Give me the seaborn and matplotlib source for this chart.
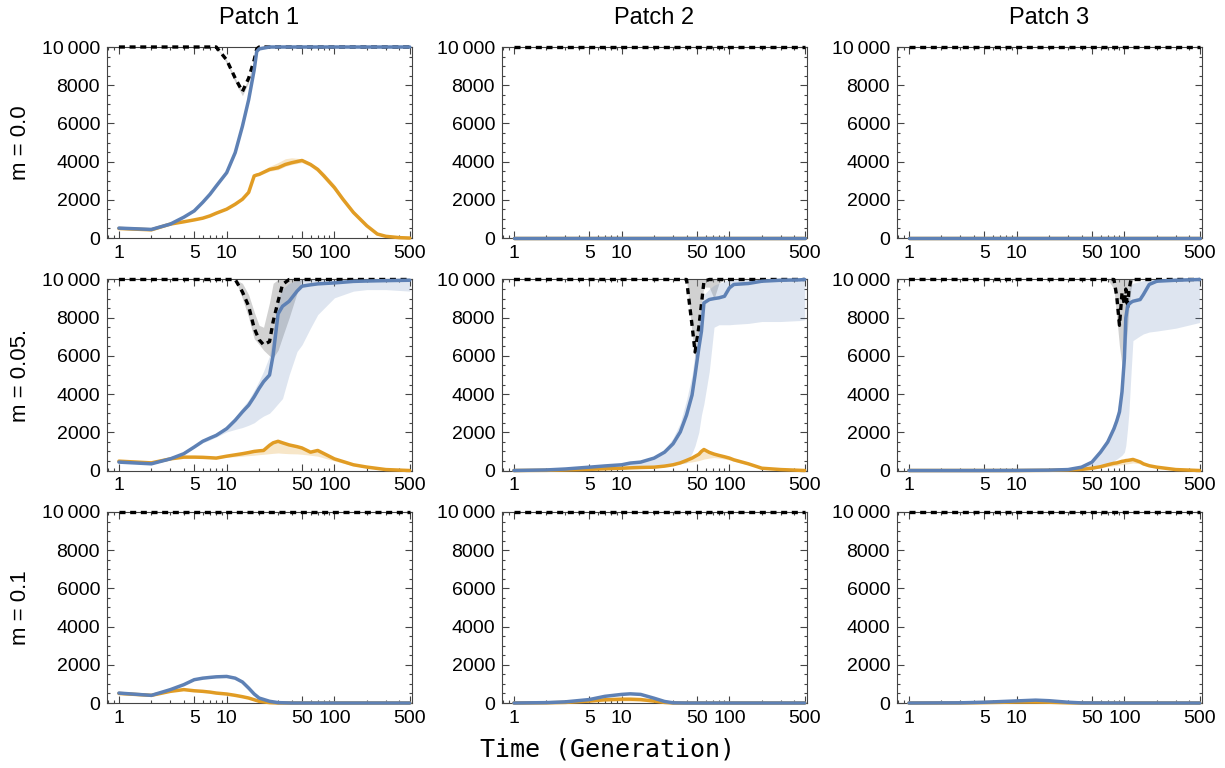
import matplotlib
matplotlib.use("Agg")
import matplotlib.pyplot as plt
import matplotlib.ticker as mticker
import seaborn as sns

# ---- data ----
patches = ["Patch 1", "Patch 2", "Patch 3"]
rates = ["m = 0.0", "m = 0.05.", "m = 0.1"]
x_ticks = [1, 5, 10, 50, 100, 500]
y_ticks = [0, 2000, 4000, 6000, 8000, 10000]
y_labels = ["0", "2000", "4000", "6000", "8000", "10\u2009000"]

# empty patches
t_flat = [1, 500]
zero_flat = [0, 0]
full_flat = [10000, 10000]

# m = 0.0, patch 1
t11 = [1, 2, 3, 4, 5, 6, 7, 8, 10, 12, 14, 16, 18, 19, 20, 25, 30, 35, 40, 50,
       60, 70, 80, 100, 120, 150, 200, 250, 300, 400, 500]
blue11 = [520, 450, 730, 1090, 1420, 1870, 2290, 2720, 3420, 4470, 5850, 7240, 8800, 9760, 9900,
          10000, 10000, 10000, 10000, 10000, 10000, 10000, 10000, 10000, 10000, 10000, 10000,
          10000, 10000, 10000, 10000]
orange11 = [500, 430, 730, 850, 950, 1040, 1160, 1300, 1510, 1770, 2030, 2390, 3250, 3300, 3330,
            3590, 3680, 3850, 3940, 4060, 3850, 3590, 3250, 2640, 2030, 1340, 640, 210, 90, 20, 0]
orange11_hi = [500, 430, 730, 850, 950, 1040, 1160, 1300, 1510, 1770, 2030, 2390, 3300, 3380, 3420,
               3750, 3950, 4150, 4200, 4150, 3950, 3700, 3400, 2800, 2150, 1450, 700, 250, 110, 30, 0]
orange11_lo = [500, 430, 730, 850, 950, 1040, 1160, 1300, 1510, 1770, 2030, 2390, 3200, 3250, 3280,
               3500, 3580, 3750, 3850, 3950, 3750, 3450, 3100, 2500, 1900, 1250, 580, 180, 70, 10, 0]
black11 = [10000, 10000, 10000, 10000, 10000, 10000, 10000, 10000, 9320, 8370, 7670, 8370, 9320,
           9900, 10000, 10000, 10000, 10000, 10000, 10000, 10000, 10000, 10000, 10000, 10000,
           10000, 10000, 10000, 10000, 10000, 10000]
black11_lo = [10000, 10000, 10000, 10000, 10000, 10000, 10000, 10000, 9150, 8150, 7450, 8150, 9100,
              9750, 10000, 10000, 10000, 10000, 10000, 10000, 10000, 10000, 10000, 10000, 10000,
              10000, 10000, 10000, 10000, 10000, 10000]

# m = 0.05, patch 1
t21 = [1, 2, 3, 4, 5, 6, 7, 8, 10, 12, 14, 16, 18, 20, 22, 25, 27, 30, 33, 38,
       45, 50, 60, 70, 100, 150, 200, 300, 500]
blue21 = [440, 350, 610, 880, 1230, 1530, 1700, 1840, 2190, 2630, 3070, 3420, 3860, 4300, 4650,
          5000, 6050, 8200, 8600, 8860, 9390, 9650, 9720, 9770, 9820, 9900, 9920, 9940, 9960]
blue21_lo = [440, 350, 610, 860, 1180, 1450, 1600, 1750, 2020, 2150, 2250, 2370, 2500, 2700, 2850,
             3000, 3200, 3500, 3770, 5000, 6230, 6580, 7460, 8160, 9040, 9390, 9470, 9470, 9390]
blue21_hi = [440, 350, 610, 900, 1280, 1600, 1800, 1950, 2350, 2800, 3300, 3700, 4200, 4700, 5200,
             6000, 7200, 9000, 9500, 9800, 9950, 10000, 10000, 10000, 10000, 10000, 10000, 10000,
             10000]
orange21 = [490, 400, 610, 700, 700, 690, 670, 650, 750, 820, 880, 940, 1000, 1030, 1050, 1320,
             1450, 1530, 1450, 1340, 1250, 1180, 960, 1050, 610, 300, 180, 50, 0]
orange21_lo = [490, 400, 610, 690, 690, 680, 660, 640, 700, 720, 750, 780, 800, 830, 850, 880,
               900, 920, 900, 880, 870, 850, 800, 750, 500, 250, 150, 40, 0]
black21 = [10000, 10000, 10000, 10000, 10000, 10000, 10000, 10000, 10000, 10000, 9350, 8600, 7450,
           6850, 6580, 6750, 7800, 8860, 9740, 10000, 10000, 10000, 10000, 10000, 10000, 10000,
           10000, 10000, 10000]
black21_lo = [10000, 10000, 10000, 10000, 10000, 10000, 10000, 10000, 10000, 10000, 9000, 8000,
              6900, 6600, 6300, 6000, 5900, 6300, 7000, 8000, 9300, 10000, 10000, 10000, 10000,
              10000, 10000, 10000, 10000]
black21_hi = [10000, 10000, 10000, 10000, 10000, 10000, 10000, 10000, 10000, 10000, 9800, 9200,
              8300, 7600, 7500, 8800, 9800, 10000, 10000, 10000, 10000, 10000, 10000, 10000, 10000,
              10000, 10000, 10000, 10000]

# m = 0.05, patch 2
t22 = [1, 2, 3, 5, 7, 10, 12, 15, 20, 25, 30, 35, 40, 45, 48, 52, 55, 58, 65, 72,
       80, 90, 100, 110, 150, 200, 300, 450, 500]
blue22 = [0, 30, 80, 175, 240, 300, 390, 440, 650, 960, 1400, 2020, 2900, 3950, 5000, 6400, 7280,
          8770, 8950, 9000, 9040, 9120, 9560, 9740, 9790, 9910, 9960, 9980, 10000]
blue22_lo = [0, 20, 50, 120, 170, 220, 250, 260, 270, 300, 330, 350, 400, 900, 1300, 2000, 2900,
             3500, 5180, 7500, 7630, 7630, 7630, 7650, 7700, 7800, 7800, 7850, 7890]
blue22_hi = [0, 30, 80, 175, 240, 300, 390, 450, 700, 1100, 1700, 2500, 3700, 5000, 6200, 7800,
             8900, 9200, 9500, 9700, 9800, 9900, 10000, 10000, 10000, 10000, 10000, 10000, 10000]
orange22 = [0, 10, 30, 60, 90, 120, 140, 160, 175, 230, 300, 400, 530, 650, 740, 850, 1000, 1100,
            950, 860, 790, 720, 650, 560, 350, 120, 50, 10, 0]
orange22_lo = [0, 10, 30, 60, 90, 120, 140, 160, 175, 220, 280, 350, 420, 450, 480, 520, 560, 600,
               650, 680, 650, 600, 550, 480, 300, 100, 40, 5, 0]
black22 = [10000, 10000, 10000, 10000, 10000, 10000, 10000, 10000, 10000, 10000, 10000, 10000,
           10000, 7600, 6200, 7500, 8700, 9900, 10000, 10000, 10000, 10000, 10000, 10000, 10000,
           10000, 10000, 10000, 10000]
black22_lo = [10000, 10000, 10000, 10000, 10000, 10000, 10000, 10000, 10000, 10000, 10000, 10000,
              10000, 7200, 5900, 7400, 8800, 9600, 9600, 9000, 9800, 10000, 10000, 10000, 10000,
              10000, 10000, 10000, 10000]

# m = 0.05, patch 3
t23 = [1, 5, 10, 20, 30, 40, 50, 60, 70, 80, 85, 90, 95, 100, 103, 107, 110, 115, 120, 140,
       150, 170, 200, 300, 500]
blue23 = [0, 0, 5, 20, 50, 175, 440, 960, 1490, 2190, 2600, 3070, 4120, 5880, 7980, 8600, 8700,
          8800, 8860, 8950, 9210, 9740, 9910, 9960, 10000]
blue23_lo = [0, 0, 0, 5, 10, 20, 60, 150, 300, 500, 600, 700, 800, 960, 1300, 2200, 3000, 5000,
             6800, 7050, 7150, 7250, 7300, 7450, 7750]
blue23_hi = [0, 0, 5, 25, 60, 200, 500, 1100, 1700, 2500, 3000, 3700, 5000, 7000, 8700, 9300,
             9500, 9700, 9800, 9900, 9950, 10000, 10000, 10000, 10000]
orange23 = [0, 0, 0, 10, 30, 60, 120, 200, 300, 380, 400, 440, 480, 500, 520, 530, 540, 560, 580,
            450, 350, 250, 175, 50, 0]
orange23_lo = [0, 0, 0, 10, 25, 50, 90, 140, 200, 250, 270, 290, 310, 330, 340, 350, 360, 380, 400,
               350, 280, 200, 140, 40, 0]
black23 = [10000, 10000, 10000, 10000, 10000, 10000, 10000, 10000, 10000, 10000, 9100, 7600, 9300,
           8700, 9500, 8500, 9400, 10000, 10000, 10000, 10000, 10000, 10000, 10000, 10000]
black23_lo = [10000, 10000, 10000, 10000, 10000, 10000, 10000, 10000, 10000, 9500, 8000, 6500,
              5500, 5200, 6500, 7500, 8500, 9500, 10000, 10000, 10000, 10000, 10000, 10000, 10000]

# m = 0.1, patch 1
t31 = [1, 2, 3, 4, 5, 6, 7, 8, 10, 12, 14, 16, 18, 20, 25, 30, 40, 50, 100, 500]
blue31 = [520, 400, 700, 960, 1220, 1300, 1340, 1370, 1390, 1300, 1100, 780, 470, 260, 90, 20,
          0, 0, 0, 0]
orange31 = [500, 400, 610, 700, 640, 610, 570, 520, 470, 400, 330, 260, 170, 90, 20, 0, 0, 0, 0, 0]

# m = 0.1, patch 2
t32 = [1, 2, 3, 5, 7, 10, 12, 15, 20, 25, 30, 40, 100, 500]
blue32 = [0, 20, 60, 180, 350, 450, 480, 450, 250, 80, 10, 0, 0, 0]
orange32 = [0, 10, 30, 100, 170, 200, 200, 180, 100, 30, 0, 0, 0, 0]
orange32_lo = [0, 0, 10, 40, 80, 100, 100, 90, 50, 10, 0, 0, 0, 0]

# m = 0.1, patch 3
t33 = [1, 3, 5, 10, 15, 20, 30, 40, 100, 500]
blue33 = [0, 10, 40, 110, 150, 120, 40, 5, 0, 0]
orange33 = [0, 5, 20, 50, 50, 40, 10, 0, 0, 0]

BLUE = "#5E81B5"
ORANGE = "#E19C24"

panels = [
    [dict(t=t11, blue=blue11, orange=orange11, black=black11,
          orange_band=(orange11_lo, orange11_hi), black_band=(black11_lo, black11)),
     dict(t=t_flat, blue=zero_flat, orange=zero_flat, black=full_flat),
     dict(t=t_flat, blue=zero_flat, orange=zero_flat, black=full_flat)],
    [dict(t=t21, blue=blue21, orange=orange21, black=black21, blue_band=(blue21_lo, blue21_hi),
          orange_band=(orange21_lo, orange21), black_band=(black21_lo, black21_hi)),
     dict(t=t22, blue=blue22, orange=orange22, black=black22, blue_band=(blue22_lo, blue22_hi),
          orange_band=(orange22_lo, orange22), black_band=(black22_lo, [10000] * len(t22))),
     dict(t=t23, blue=blue23, orange=orange23, black=black23, blue_band=(blue23_lo, blue23_hi),
          orange_band=(orange23_lo, orange23), black_band=(black23_lo, [10000] * len(t23)))],
    [dict(t=t31, blue=blue31, orange=orange31, black=[10000] * len(t31)),
     dict(t=t32, blue=blue32, orange=orange32, black=[10000] * len(t32),
          orange_band=(orange32_lo, orange32)),
     dict(t=t33, blue=blue33, orange=orange33, black=[10000] * len(t33))],
]

sns.set_theme(style="ticks")
plt.rcParams['font.family'] = ['Liberation Sans', 'DejaVu Sans']
plt.rcParams['text.color'] = 'black'

fig, axes = plt.subplots(3, 3, figsize=(12.25, 7.68), dpi=100)
fig.subplots_adjust(left=107 / 1225, right=1202 / 1225, top=1 - 47 / 768,
                    bottom=1 - 703 / 768, wspace=0.295, hspace=0.217)

for r in range(3):
    for c in range(3):
        ax = axes[r, c]
        p = panels[r][c]
        t = p["t"]
        ax.set_xscale("log")

        if "black_band" in p:
            lo, hi = p["black_band"]
            ax.fill_between(t, lo, hi, color="#9a9a9a", alpha=0.45, lw=0)
        if "blue_band" in p:
            lo, hi = p["blue_band"]
            ax.fill_between(t, lo, hi, color=BLUE, alpha=0.2, lw=0)
        if "orange_band" in p:
            lo, hi = p["orange_band"]
            ax.fill_between(t, lo, hi, color=ORANGE, alpha=0.25, lw=0)

        sns.lineplot(x=t, y=p["black"], ax=ax, color="black", lw=2.4,
                     estimator=None, clip_on=False, zorder=3)
        ax.lines[-1].set_dashes((1.8, 1.4))
        ax.lines[-1].set_dash_capstyle("butt")
        sns.lineplot(x=t, y=p["orange"], ax=ax, color=ORANGE, lw=2.5,
                     estimator=None, clip_on=False, zorder=4)
        sns.lineplot(x=t, y=p["blue"], ax=ax, color=BLUE, lw=2.5,
                     estimator=None, clip_on=False, zorder=5)

        ax.set_xlim(0.775, 525)
        ax.set_ylim(0, 10000)
        ax.xaxis.set_major_locator(mticker.FixedLocator(x_ticks))
        ax.xaxis.set_major_formatter(mticker.FixedFormatter([str(v) for v in x_ticks]))
        ax.xaxis.set_minor_locator(mticker.LogLocator(base=10, subs=(2, 3, 4, 6, 7, 8, 9), numticks=20))
        ax.xaxis.set_minor_formatter(mticker.NullFormatter())
        ax.yaxis.set_major_locator(mticker.FixedLocator(y_ticks))
        ax.yaxis.set_major_formatter(mticker.FixedFormatter(y_labels))
        ax.yaxis.set_minor_locator(mticker.MultipleLocator(500))
        ax.tick_params(which="both", direction="in", top=True, right=True,
                       color="#444444", width=0.8, labelsize=14, labelcolor="black")
        ax.tick_params(which="major", length=5, pad=5)
        ax.tick_params(which="minor", length=2.5)
        for s in ax.spines.values():
            s.set_color("#444444")
            s.set_linewidth(0.8)
        ax.set_xlabel("")
        ax.set_ylabel("")

for c, name in enumerate(patches):
    pos = axes[0, c].get_position()
    fig.text((pos.x0 + pos.x1) / 2, 1 - 18 / 768, name, ha="center", va="center",
             fontsize=17, color="black")

for r, name in enumerate(rates):
    pos = axes[r, 0].get_position()
    fig.text(20 / 1225, (pos.y0 + pos.y1) / 2, name, ha="center", va="center",
             rotation=90, fontsize=16, color="black")

fig.text(608 / 1225, 1 - 750 / 768, "Time (Generation)", ha="center", va="center",
         fontsize=18, family="DejaVu Sans Mono", color="black")

fig.savefig("out.png", dpi=100)
